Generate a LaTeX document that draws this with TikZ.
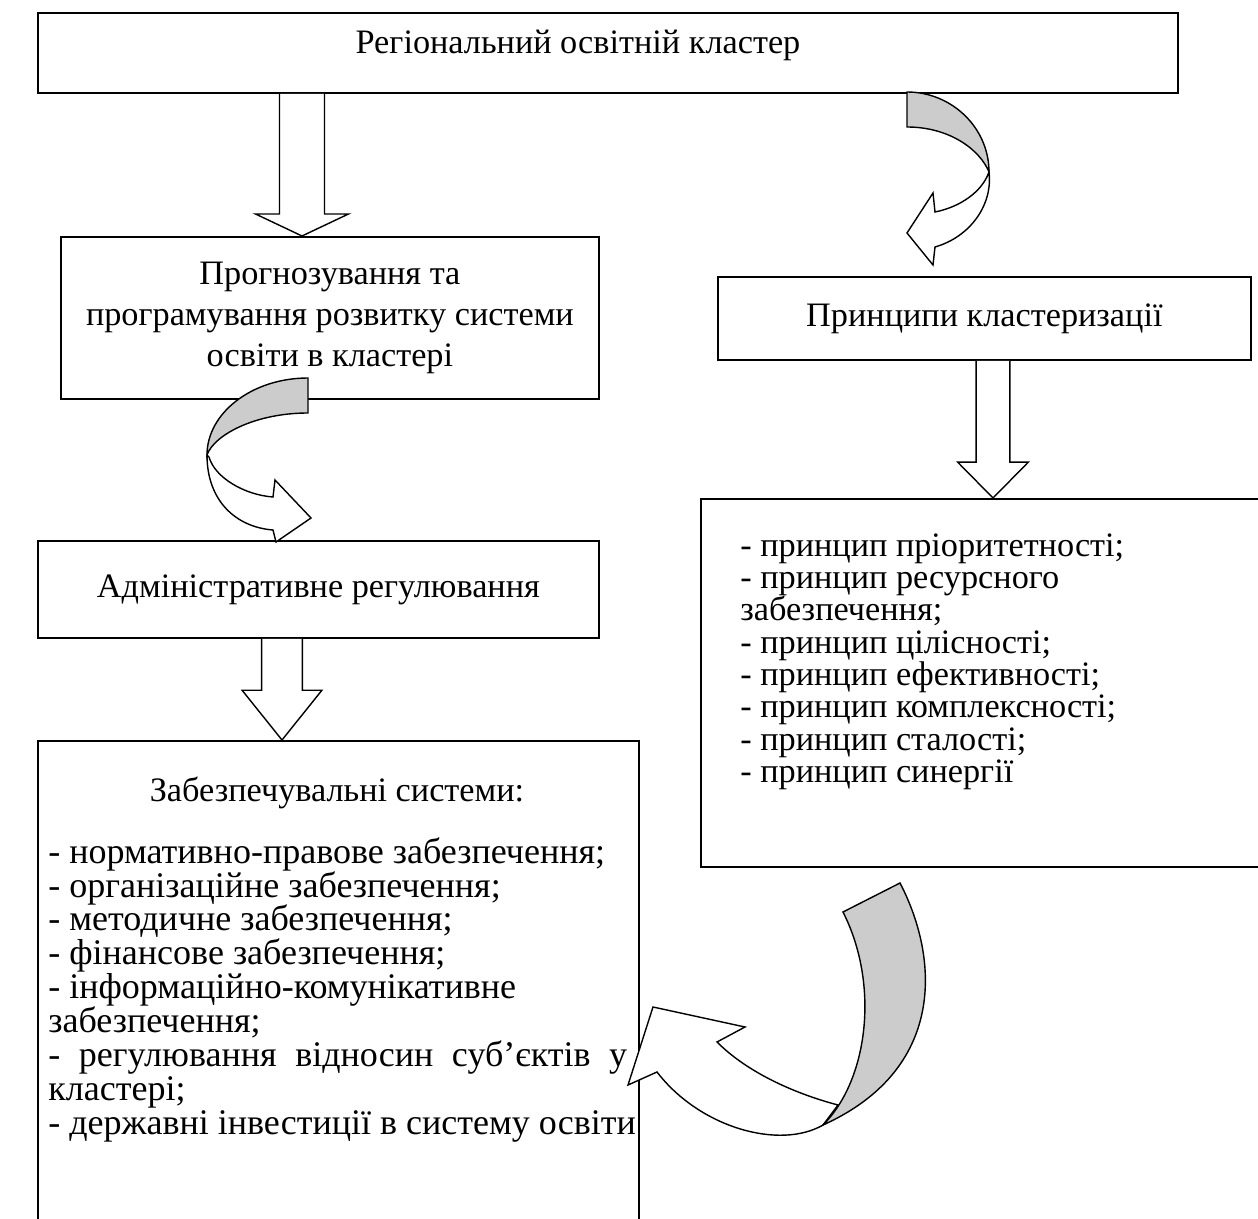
\documentclass[tikz,border=0pt]{standalone}
\usepackage{fontspec}
\setmainfont{Liberation Serif}
\usetikzlibrary{calc}

% hollow block arrow: shaft half width, head half width, head length, from, tip
\newcommand{\blockdown}[5]{%
  \draw[hollow] let \p1=(#4), \p2=(#5) in
    (\x2-#1,\y1) -- (\x2-#1,\y2+#3) -- (\x2-#2,\y2+#3) -- (\x2,\y2)
    -- (\x2+#2,\y2+#3) -- (\x2+#1,\y2+#3) -- (\x2+#1,\y1);}

\begin{document}
\begin{tikzpicture}
        [x=0.02cm,y=-0.02cm,
        every node/.style={font=\fontsize{19.5}{22}\selectfont},
        box/.style={draw,line width=1.1pt,inner sep=0pt,anchor=north west,align=center},
        hollow/.style={draw,fill=white,line width=0.8pt},
        shade/.style={draw,fill=black!20,line width=0.8pt}]
        \useasboundingbox (0,0) rectangle (1258,1219);

        % the boxes
        \node[box,minimum width=22.8cm,minimum height=1.6cm] (cluster) at (37,12) {};
        \node (clustertxt) at (578,45) {Регіональний освітній кластер};
        \node[box,minimum width=10.76cm,minimum height=3.24cm,font=\fontsize{19.5}{23.5}\selectfont] (forecast) at (60,236)
            {Прогнозування та\\програмування розвитку системи\\освіти в кластері};
        \node[box,minimum width=10.66cm,minimum height=1.66cm] (principles) at (717,276) {Принципи кластеризації};
        \node[box,minimum width=11.4cm,minimum height=7.36cm] (princlist) at (700,498) {};
        \node[box,minimum width=11.22cm,minimum height=1.94cm] (admin) at (37,540) {Адміністративне регулювання};
        \node[box,minimum width=12.02cm,minimum height=10cm] (supply) at (37,740) {};

        % texts inside the lists
        \node[anchor=north west,align=left,inner sep=0pt,font=\fontsize{19.5}{18.4}\selectfont] (princtxt) at (740,533)
            {- принцип пріоритетності;\\- принцип ресурсного\\забезпечення;\\- принцип цілісності;\\- принцип ефективності;\\- принцип комплексності;\\- принцип сталості;\\- принцип синергії};
        \node (supplytitle) at (337,793) {Забезпечувальні системи:};
        \node[anchor=north west,align=left,inner sep=0pt,font=\fontsize{20.5}{19.3}\selectfont] (supplytxt) at (48,837)
            {- нормативно-правове забезпечення;\\- організаційне забезпечення;\\- методичне забезпечення;\\- фінансове забезпечення;\\- інформаційно-комунікативне\\забезпечення;\\\makebox[11.58cm][s]{- регулювання відносин суб’єктів у}\\кластері;\\- державні інвестиції в систему освіти};

        % straight arrows
        \coordinate (tip1) at ($(forecast.north west)+(242,0)$);
        \coordinate (tip2) at ($(princlist.north west)+(293,0)$);
        \coordinate (tip3) at ($(supply.north west)+(245,0)$);
        \blockdown{12.8pt}{26.4pt}{12.5pt}{tip1 |- cluster.south}{tip1}
        \blockdown{9.6pt}{20.1pt}{20.4pt}{tip2 |- principles.south}{tip2}
        \blockdown{11.6pt}{22.7pt}{28.3pt}{tip3 |- admin.south}{tip3}

        % curved arrow from the cluster
        \draw[shade] (907,92) .. controls (952,92) and (989,128) .. (989,172)
            .. controls (980,150) and (950,127) .. (907,127) -- cycle;
        \draw[hollow] (989,172) .. controls (993,205) and (970,237) .. (935,247)
            -- (933,265) -- (907,233) -- (933,193) -- (935,212)
            .. controls (960,207) and (982,192) .. (989,172) -- cycle;
        % curved arrow to the administration
        \draw[shade] (308,378) .. controls (252,378) and (207,413) .. (207,455)
            .. controls (214,435) and (255,413) .. (308,413) -- cycle;
        \draw[hollow] (207,455) .. controls (207,500) and (235,527) .. (273,530)
            -- (276,542) -- (311,518) -- (275,480) -- (273,497)
            .. controls (245,495) and (215,478) .. (209,457) -- cycle;
        % curved arrow to the supply systems
        \draw[hollow] (838,1105) .. controls (800,1095) and (750,1075) .. (717,1042)
            -- (745,1027) -- (653,1007) -- (628,1085) -- (657,1072)
            .. controls (700,1128) and (780,1150) .. (823,1125) -- cycle;
        \draw[shade] (843,912) -- (900,883) .. controls (940,960) and (945,1070) .. (823,1125)
            .. controls (868,1080) and (880,985) .. (843,912) -- cycle;
\end{tikzpicture}
\end{document}
